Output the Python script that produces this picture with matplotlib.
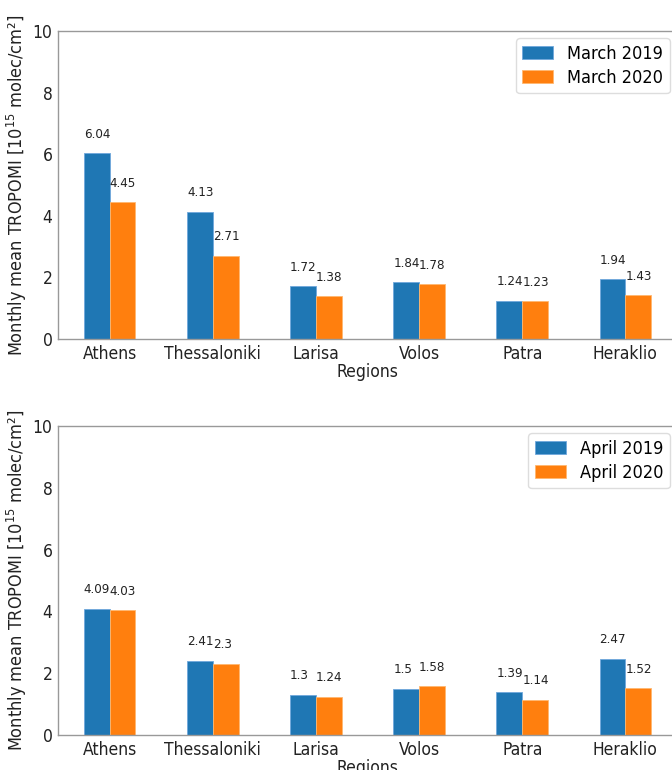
import matplotlib
matplotlib.use("Agg")
import matplotlib.pyplot as plt
import numpy as np

plt.rcParams["font.family"] = ["DejaVu Sans"]
plt.rcParams["font.stretch"] = "condensed"
plt.rcParams["mathtext.fontset"] = "custom"
plt.rcParams["mathtext.rm"] = "DejaVu Sans:stretch=condensed"
plt.rcParams["mathtext.it"] = "DejaVu Sans:stretch=condensed:style=oblique"
plt.rcParams["mathtext.bf"] = "DejaVu Sans:stretch=condensed:weight=bold"

regions = ["Athens", "Thessaloniki", "Larisa", "Volos", "Patra", "Heraklio"]
march_2019 = [6.04, 4.13, 1.72, 1.84, 1.24, 1.94]
march_2020 = [4.45, 2.71, 1.38, 1.78, 1.23, 1.43]
april_2019 = [4.09, 2.41, 1.3, 1.5, 1.39, 2.47]
april_2020 = [4.03, 2.3, 1.24, 1.58, 1.14, 1.52]
labels_top = ["March 2019", "March 2020"]
labels_bot = ["April 2019", "April 2020"]

W, H = 672, 770
fig = plt.figure(figsize=(W / 100, H / 100), dpi=100)

def make_axes(top, bottom, left=58, right=677):
    return fig.add_axes([left / W, 1 - bottom / H, (right - left) / W, (bottom - top) / H])

ax1 = make_axes(31, 339)
ax2 = make_axes(426, 735)

def draw(ax, s1, s2, labs):
    x = np.arange(len(regions))
    w = 0.25
    b1 = ax.bar(x - w / 2, s1, w, color="#1f77b4", label=labs[0], edgecolor="#6fa8dc", linewidth=0.6)
    b2 = ax.bar(x + w / 2, s2, w, color="#ff7f0e", label=labs[1], edgecolor="#ffb870", linewidth=0.6)
    for bars in (b1, b2):
        for r in bars:
            h = r.get_height()
            ax.text(r.get_x(), h + 0.5, str(round(h, 2)), fontsize=9.5, color="#222222")
    ax.set_xlim(-0.5, 5.5)
    ax.set_ylim(0, 10)
    ax.set_yticks([0, 2, 4, 6, 8, 10])
    ax.set_xticks(x)
    ax.set_xticklabels(regions)
    ax.tick_params(length=0, labelsize=12.5, pad=4, colors="#222222")
    for s in ax.spines.values():
        s.set_color("#999999")
        s.set_linewidth(1.0)
    ax.set_xlabel("Regions", fontsize=12.5, labelpad=0, color="#222222")
    ax.set_ylabel("Monthly mean TROPOMI [$10^{15}$ molec/cm²]", fontsize=13, color="#222222")
    ax.yaxis.set_label_coords(-29 / 619, 0.5)
    leg = ax.legend(loc="upper right", fontsize=13, framealpha=1, borderaxespad=0.4,
                    handlelength=1.7, labelspacing=0.35, borderpad=0.35)
    leg.get_frame().set_edgecolor("#dddddd")

draw(ax1, march_2019, march_2020, labels_top)
draw(ax2, april_2019, april_2020, labels_bot)

fig.savefig("out.png", dpi=100)
